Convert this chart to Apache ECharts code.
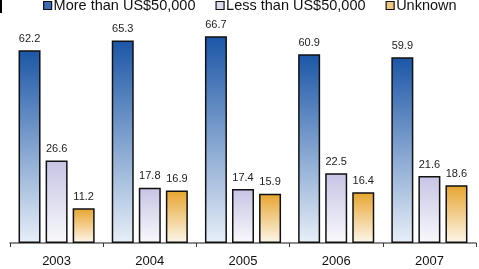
<!DOCTYPE html>
<html>
<head>
<meta charset="utf-8">
<script src="https://cdn.jsdelivr.net/npm/echarts@6/dist/echarts.min.js"></script>
<style>
html, body { margin: 0; padding: 0; background: #fff; }
#main { width: 479px; height: 269px; }
</style>
</head>
<body>
<div id="main"></div>
<script>
var years = ['2003', '2004', '2005', '2006', '2007'];
var seriesNames = ['More than US$50,000', 'Less than US$50,000', 'Unknown'];
var moreThan = [62.2, 65.3, 66.7, 60.9, 59.9];
var lessThan = [26.6, 17.8, 17.4, 22.5, 21.6];
var unknown = [11.2, 16.9, 15.9, 16.4, 18.6];

var myChart = echarts.init(document.getElementById('main'));

function grad(top, bottom) {
	return new echarts.graphic.LinearGradient(0, 0, 0, 1, [
		{ offset: 0, color: top },
		{ offset: 1, color: bottom }
	]);
}

var colors = [
	grad('#1b56a6', '#e8eff8'),
	grad('#c6c4e4', '#f9f9fc'),
	grad('#e7a42e', '#fdf7ec')
];
var legendColors = ['#3d6cb4', '#dcdcef', '#f0c77e'];

function makeSeries(i, data) {
	return {
		name: seriesNames[i],
		type: 'bar',
		data: data,
		barWidth: 22,
		barGap: '23%',
		itemStyle: {
			color: colors[i],
			borderColor: '#111',
			borderWidth: 1.5
		},
		label: {
			show: true,
			position: 'top',
			distance: 6,
			color: '#222',
			fontSize: 11,
			fontFamily: 'Liberation Sans, Arial'
		}
	};
}

option = {
	animation: false,
	legend: {
		top: -7,
		left: 38,
		itemWidth: 8,
		itemHeight: 8,
		itemGap: 20,
		icon: 'rect',
		textStyle: {
			fontSize: 14.5,
			color: '#111',
			fontFamily: 'Liberation Sans, Arial',
			padding: [0, 0, 0, -3]
		},
		data: seriesNames.map(function(n, i) {
			return {
				name: n,
				itemStyle: { color: legendColors[i], borderColor: '#111', borderWidth: 1.2 }
			};
		})
	},
	grid: {
		left: 10,
		right: 3,
		top: 26,
		bottom: 26
	},
	xAxis: {
		type: 'category',
		data: years,
		axisLine: { lineStyle: { color: '#666', width: 1.5 } },
		axisTick: { show: true, length: 4, inside: false, lineStyle: { color: '#333' } },
		axisLabel: {
			color: '#111',
			fontSize: 13,
			margin: 12,
			fontFamily: 'Liberation Sans, Arial'
		}
	},
	yAxis: {
		type: 'value',
		min: 0,
		max: 70,
		show: false
	},
	graphic: [{
		type: 'rect',
		shape: { x: 0, y: 0, width: 2, height: 13 },
		style: { fill: '#000' }
	}],
	series: [
		makeSeries(0, moreThan),
		makeSeries(1, lessThan),
		makeSeries(2, unknown)
	]
};
myChart.setOption(option);
</script>
</body>
</html>
